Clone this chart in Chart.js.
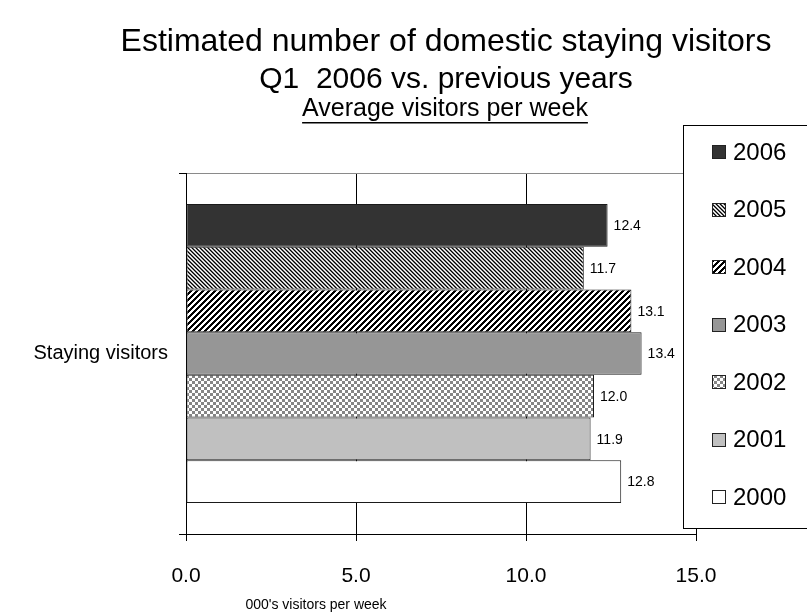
<!DOCTYPE html>
<html>
<head>
<meta charset="utf-8">
<title>Estimated number of domestic staying visitors</title>
<script src="https://cdn.jsdelivr.net/npm/chart.js@4/dist/chart.umd.min.js"></script>
<style>
  html, body { margin: 0; padding: 0; background: #fff; }
  canvas { display: block; }
</style>
</head>
<body>
<canvas id="chart" width="807" height="615"></canvas>
<script>
// Single category, one bar per year (newest at the top)
const categories = ['Staying visitors'];
const years = ['2006', '2005', '2004', '2003', '2002', '2001', '2000'];
const weeklyVisitors = [12.4, 11.7, 13.1, 13.4, 12.0, 11.9, 12.8]; // 000's per week, same order as years
const xTickValues = [0, 5, 10, 15];

const titleLines = ['Estimated number of domestic staying visitors', 'Q1  2006 vs. previous years'];
const subtitleText = 'Average visitors per week';
const xAxisTitle = "000's visitors per week";

const FONT = '"Liberation Sans", Arial, Helvetica, sans-serif';
const canvas = document.getElementById('chart');
const ctx = canvas.getContext('2d');

// Small repeating fills
function makePattern(size, paint) {
  const c = document.createElement('canvas');
  c.width = size; c.height = size;
  const g = c.getContext('2d');
  g.fillStyle = '#fff';
  g.fillRect(0, 0, size, size);
  for (let y = 0; y < size; y++) {
    for (let x = 0; x < size; x++) {
      const col = paint(x, y);
      if (col) { g.fillStyle = col; g.fillRect(x, y, 1, 1); }
    }
  }
  return ctx.createPattern(c, 'repeat');
}

const fineDownDiagonal = makePattern(4, (x, y) => {
  const d = ((x - y) % 4 + 4) % 4;
  return ['#000', '#6a6a6a', null, '#b0b0b0'][d];
});
const wideUpDiagonal = makePattern(6, (x, y) => ((x + y) % 6 < 3 ? '#000' : null));
const checker = makePattern(6, (x, y) => ((Math.floor(x / 3) + Math.floor(y / 3)) % 2 ? '#858585' : null));

const fills = ['#333333', fineDownDiagonal, wideUpDiagonal, '#969696', checker, '#c0c0c0', '#ffffff'];

const datasets = years.map((yr, i) => ({
  label: yr,
  data: [weeklyVisitors[i]],
  backgroundColor: fills[i],
  borderColor: '#1a1a1a',
  borderWidth: 1,
  borderSkipped: false,
  barPercentage: 1.0,
  categoryPercentage: 0.828
}));

// Titles, value labels and the boxed legend
const decorations = {
  id: 'decorations',
  afterDatasetsDraw(chart) {
    const c = chart.ctx;
    c.save();
    c.fillStyle = '#000';
    c.font = '14px ' + FONT;
    c.textAlign = 'left';
    c.textBaseline = 'middle';
    chart.data.datasets.forEach((ds, i) => {
      const meta = chart.getDatasetMeta(i);
      meta.data.forEach((bar, j) => {
        c.fillText(ds.data[j].toFixed(1), bar.x + 6, bar.y + 1);
      });
    });
    c.restore();
  },
  afterDraw(chart) {
    const c = chart.ctx;
    c.save();
    c.fillStyle = '#000';
    c.textAlign = 'center';
    c.textBaseline = 'middle';

    // Main title
    c.font = '32px ' + FONT;
    c.fillText(titleLines[0], 446, 42);
    c.font = '30px ' + FONT;
    c.fillText(titleLines[1], 446, 80);

    // Underlined subtitle
    c.font = '25px ' + FONT;
    const sx = 445, sy = 109;
    c.fillText(subtitleText, sx, sy);
    const w = c.measureText(subtitleText).width;
    c.fillRect(sx - w / 2, sy + 13, w, 1.5);

    // X axis title
    c.font = '14px ' + FONT;
    c.fillText(xAxisTitle, 316, 605);

    // Legend box
    const lx = 683.5, ly = 125.5, lw = 140, lh = 403;
    c.fillStyle = '#fff';
    c.fillRect(lx, ly, lw, lh);
    c.strokeStyle = '#000';
    c.lineWidth = 1;
    c.strokeRect(lx, ly, lw, lh);

    c.textAlign = 'left';
    c.font = '24px ' + FONT;
    years.forEach((yr, i) => {
      const cy = 152 + i * 57.5;
      c.fillStyle = fills[i];
      c.fillRect(712, Math.round(cy - 7), 14, 14);
      c.strokeStyle = '#222';
      c.strokeRect(712.5, Math.round(cy - 7) + 0.5, 13, 13);
      c.fillStyle = '#000';
      c.fillText(yr, 733, cy + 1);
    });
    c.restore();
  }
};

new Chart(ctx, {
  type: 'bar',
  data: { labels: categories, datasets },
  options: {
    indexAxis: 'y',
    responsive: false,
    animation: false,
    devicePixelRatio: 1,
    layout: { padding: { top: 173, right: 111, bottom: 0, left: 0 } },
    plugins: {
      legend: { display: false },
      title: { display: false },
      tooltip: { enabled: false }
    },
    scales: {
      x: {
        min: 0,
        max: 15,
        afterBuildTicks(scale) { scale.ticks = xTickValues.map(v => ({ value: v })); },
        afterFit(scale) { scale.height = 81; },
        ticks: {
          color: '#000',
          font: { family: FONT, size: 21 },
          padding: 23,
          maxRotation: 0,
          callback: v => Number(v).toFixed(1)
        },
        grid: { color: '#000', lineWidth: 1, tickLength: 7, tickColor: '#000' },
        border: { color: '#000', width: 1 }
      },
      y: {
        afterFit(scale) { scale.width = 186; },
        ticks: {
          color: '#000',
          font: { family: FONT, size: 20 },
          padding: 11
        },
        grid: { color: '#8a8a8a', lineWidth: 1, tickLength: 7, tickColor: '#000', offset: true },
        border: { color: '#000', width: 1 }
      }
    }
  },
  plugins: [decorations]
});
</script>
</body>
</html>
